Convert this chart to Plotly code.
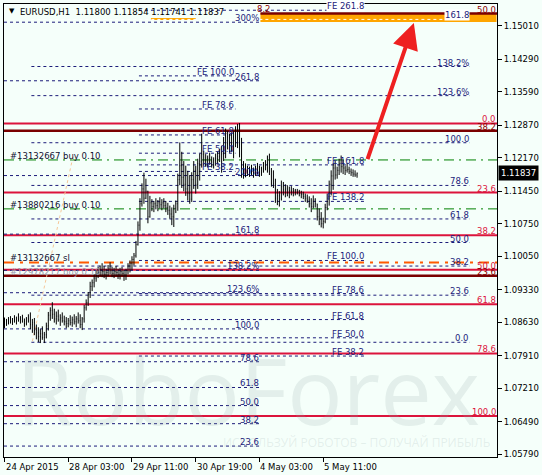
import plotly.graph_objects as go

# ---------------- data ----------------
time_labels = ["24 Apr 2015", "28 Apr 03:00", "29 Apr 11:00", "30 Apr 19:00", "4 May 03:00", "5 May 11:00"]
time_label_bars = [0, 32, 64, 96, 128, 160]

price_ticks = [1.15010, 1.14290, 1.13590, 1.12870, 1.12170, 1.11450, 1.10750,
               1.10050, 1.09330, 1.08630, 1.07910, 1.07210, 1.06490, 1.05790]

first_open = 1.0866
highs = [1.0873, 1.0870, 1.0874, 1.0876, 1.0872, 1.0878, 1.0875, 1.0882, 1.0876, 1.0879,
         1.0871, 1.0874, 1.0880, 1.0884, 1.0870, 1.0872, 1.0858, 1.0852, 1.0848, 1.0854,
         1.0842, 1.0862, 1.0885, 1.0895, 1.0906, 1.0892, 1.0886, 1.0890, 1.0880, 1.0884,
         1.0877, 1.0874, 1.0872, 1.0878, 1.0875, 1.0880, 1.0876, 1.0884, 1.0880, 1.0874,
         1.0900, 1.0912, 1.0928, 1.0950, 1.0955, 1.0966, 1.0975, 1.0982, 1.0985, 1.0990,
         1.0984, 1.0978, 1.0986, 1.0992, 1.0982, 1.0980, 1.0984, 1.0978, 1.0980, 1.0982,
         1.0976, 1.0978, 1.0990, 1.0996, 1.1005, 1.1012, 1.1038, 1.1080, 1.1130, 1.1162,
         1.1185, 1.1172, 1.1146, 1.1135, 1.1128, 1.1124, 1.1130, 1.1126, 1.1132, 1.1128,
         1.1130, 1.1124, 1.1120, 1.1114, 1.1110, 1.1116, 1.1125, 1.1183, 1.1250, 1.1230,
         1.1210, 1.1200, 1.1189, 1.1180, 1.1186, 1.1210, 1.1200, 1.1215, 1.1226, 1.1269,
         1.1232, 1.1225, 1.1222, 1.1228, 1.1220, 1.1218, 1.1226, 1.1230, 1.1236, 1.1243,
         1.1262, 1.1280, 1.1275, 1.1269, 1.1272, 1.1275, 1.1285, 1.1290, 1.1292, 1.1260,
         1.1210, 1.1205, 1.1200, 1.1198, 1.1202, 1.1196, 1.1200, 1.1206, 1.1200, 1.1198,
         1.1208, 1.1212, 1.1222, 1.1226, 1.1195, 1.1190, 1.1172, 1.1150, 1.1145, 1.1168,
         1.1165, 1.1160, 1.1158, 1.1155, 1.1156, 1.1152, 1.1150, 1.1150, 1.1148, 1.1146,
         1.1144, 1.1140, 1.1138, 1.1134, 1.1130, 1.1136, 1.1130, 1.1118, 1.1108, 1.1100,
         1.1088, 1.1118, 1.1140, 1.1168, 1.1190, 1.1205, 1.1210, 1.1198, 1.1215, 1.1222,
         1.1212, 1.1200, 1.1206, 1.1198, 1.1194, 1.1192, 1.1190, 1.11854]
lows = [1.0850, 1.0855, 1.0858, 1.0860, 1.0857, 1.0862, 1.0858, 1.0864, 1.0860, 1.0862,
        1.0853, 1.0856, 1.0862, 1.0848, 1.0840, 1.0835, 1.0826, 1.0820, 1.0818, 1.0825,
        1.0818, 1.0828, 1.0845, 1.0866, 1.0870, 1.0862, 1.0858, 1.0864, 1.0855, 1.0862,
        1.0856, 1.0850, 1.0852, 1.0856, 1.0853, 1.0858, 1.0852, 1.0860, 1.0850, 1.0846,
        1.0862, 1.0888, 1.0898, 1.0915, 1.0930, 1.0938, 1.0950, 1.0958, 1.0962, 1.0960,
        1.0958, 1.0955, 1.0962, 1.0966, 1.0960, 1.0958, 1.0962, 1.0956, 1.0955, 1.0962,
        1.0952, 1.0954, 1.0966, 1.0970, 1.0975, 1.0985, 1.1002, 1.1028, 1.1060, 1.1112,
        1.1118, 1.1128, 1.1076, 1.1088, 1.1102, 1.1100, 1.1106, 1.1102, 1.1108, 1.1104,
        1.1108, 1.1100, 1.1094, 1.1086, 1.1072, 1.1068, 1.1098, 1.1103, 1.1158, 1.1152,
        1.1145, 1.1135, 1.1125, 1.1118, 1.1122, 1.1150, 1.1140, 1.1150, 1.1168, 1.1196,
        1.1200, 1.1198, 1.1196, 1.1202, 1.1196, 1.1194, 1.1200, 1.1204, 1.1208, 1.1185,
        1.1210, 1.1216, 1.1235, 1.1228, 1.1230, 1.1216, 1.1240, 1.1238, 1.1218, 1.1174,
        1.1172, 1.1175, 1.1178, 1.1176, 1.1180, 1.1174, 1.1178, 1.1182, 1.1176, 1.1178,
        1.1185, 1.1190, 1.1185, 1.1180, 1.1155, 1.1152, 1.1120, 1.1115, 1.1112, 1.1125,
        1.1136, 1.1132, 1.1134, 1.1130, 1.1136, 1.1134, 1.1136, 1.1138, 1.1134, 1.1130,
        1.1128, 1.1122, 1.1120, 1.1110, 1.1100, 1.1108, 1.1110, 1.1082, 1.1072, 1.1067,
        1.1065, 1.1076, 1.1104, 1.1114, 1.1136, 1.1148, 1.1170, 1.1172, 1.1180, 1.1185,
        1.1182, 1.1180, 1.1185, 1.1182, 1.1178, 1.1176, 1.1176, 1.11741]
closes = [1.0862, 1.0866, 1.0868, 1.0864, 1.0869, 1.0866, 1.0870, 1.0868, 1.0872, 1.0864,
          1.0860, 1.0870, 1.0866, 1.0858, 1.0862, 1.0845, 1.0840, 1.0832, 1.0838, 1.0830,
          1.0836, 1.0855, 1.0878, 1.0888, 1.0880, 1.0870, 1.0876, 1.0868, 1.0872, 1.0866,
          1.0864, 1.0860, 1.0866, 1.0862, 1.0868, 1.0864, 1.0870, 1.0866, 1.0858, 1.0870,
          1.0894, 1.0905, 1.0922, 1.0940, 1.0948, 1.0958, 1.0968, 1.0970, 1.0976, 1.0972,
          1.0966, 1.0970, 1.0978, 1.0974, 1.0968, 1.0972, 1.0970, 1.0966, 1.0972, 1.0968,
          1.0964, 1.0974, 1.0984, 1.0990, 1.0998, 1.1006, 1.1030, 1.1072, 1.1118, 1.1150,
          1.1130, 1.1145, 1.1090, 1.1120, 1.1112, 1.1118, 1.1114, 1.1120, 1.1116, 1.1120,
          1.1114, 1.1110, 1.1104, 1.1096, 1.1090, 1.1108, 1.1118, 1.1170, 1.1200, 1.1175,
          1.1160, 1.1150, 1.1140, 1.1128, 1.1170, 1.1190, 1.1160, 1.1205, 1.1210, 1.1225,
          1.1212, 1.1210, 1.1216, 1.1210, 1.1208, 1.1212, 1.1216, 1.1220, 1.1230, 1.1225,
          1.1255, 1.1262, 1.1248, 1.1260, 1.1240, 1.1262, 1.1275, 1.1248, 1.1225, 1.1190,
          1.1185, 1.1192, 1.1186, 1.1190, 1.1188, 1.1184, 1.1194, 1.1190, 1.1186, 1.1194,
          1.1200, 1.1204, 1.1195, 1.1188, 1.1162, 1.1158, 1.1130, 1.1135, 1.1128, 1.1155,
          1.1148, 1.1150, 1.1142, 1.1146, 1.1144, 1.1146, 1.1142, 1.1144, 1.1140, 1.1138,
          1.1134, 1.1130, 1.1126, 1.1118, 1.1112, 1.1126, 1.1118, 1.1090, 1.1085, 1.1075,
          1.1080, 1.1110, 1.1130, 1.1160, 1.1178, 1.1195, 1.1180, 1.1190, 1.1205, 1.1198,
          1.1195, 1.1190, 1.1192, 1.1188, 1.1185, 1.1182, 1.1180, 1.11837]
opens = [first_open] + closes[:-1]
bars = list(range(len(closes)))

# Fibonacci objects: (price at 0 %, price at 100 %), levels, labels
crimson_p0, crimson_p100 = 1.12910, 1.06607
crimson_levels = [0.0, 23.6, 38.2, 50.0, 61.8, 78.6, 100.0]
crimson_labels = ["0.0", "23.6", "38.2", "50.0", "61.8", "78.6", "100.0"]

maroon_p0, maroon_p100 = 1.04582, 1.25972
maroon_levels = [23.6, 38.2, 50.0]
maroon_labels = ["23.6", "38.2", "50.0"]

retr2_p0, retr2_p100 = 1.08197, 1.12495
retr2_levels = [0.0, 23.6, 38.2, 50.0, 61.8, 78.6, 100.0, 123.6, 138.2, 161.8]
retr2_labels = ["0.0", "23.6", "38.2", "50.0", "61.8", "78.6", "100.0", "123.6%", "138.2%", "161.8"]

exp3_p0, exp3_p100 = 1.05182, 1.08485
exp3_levels = [23.6, 38.2, 50.0, 61.8, 78.6, 100.0, 123.6, 138.2, 161.8, 200.0, 261.8, 300.0]
exp3_labels = ["23.6", "38.2", "50.0", "61.8", "78.6", "100.0", "123.6%", "138.2%", "161.8", "200%", "261.8", "300%"]

fe1_p0, fe1_p100 = 1.10604, 1.13935
fe1_levels = [38.2, 50.0, 61.8, 78.6, 100.0]
fe1_labels = ["FE 38.2", "FE 50.0", "FE 61.8", "FE 78.6", "FE 100.0"]

fe2_p0, fe2_p100 = 1.06628, 1.09959
fe2_levels = [38.2, 50.0, 61.8, 78.6, 100.0, 138.2, 161.8, 261.8]
fe2_labels = ["FE 38.2", "FE 50.0", "FE 61.8", "FE 78.6", "FE 100.0", "FE 138.2", "FE 161.8", "FE 261.8"]

order_prices = [1.12124, 1.11070]
order_labels = ["#13132667 buy 0.10", "#13880216 buy 0.10"]
sl_price = 1.09916
sl_label = "#13132667 sl"
closed_order_label = "#12978217 buy 0.10"
closed_order_price = 1.09630

target_box = (128.5, 247.0, 1.15096, 1.15290)   # bar from, bar to, price low, price high
trend_start = (14.0, 1.08219)
trend_end = (34.5, 1.12216)
arrow_start = (182.0, 1.12109)
arrow_end = (205.5, 1.15074)

title_text = "EURUSD,H1  1.11800 1.11854 1.11741 1.11837"
last_price = 1.11837

# ---------------- styling ----------------
BG = "#F5FFFA"
NAVY = "#1C1C7A"
FONT = "DejaVu Sans"
FS = 8.5
X_MIN, X_MAX = -0.25, 247.25
Y_MIN, Y_MAX = 1.05726, 1.15483


def lvl_price(p0, p100, lvl):
    return p0 + (p100 - p0) * lvl / 100.0


fig = go.Figure()
fig.add_trace(go.Ohlc(
    x=bars, open=opens, high=highs, low=lows, close=closes,
    increasing=dict(line=dict(color="black", width=1)),
    decreasing=dict(line=dict(color="black", width=1)),
    tickwidth=0.2, showlegend=False, hoverinfo="skip"))

shapes = []
annotations = []


def hline(x0, x1, y, color, width, dash):
    shapes.append(dict(type="line", xref="x", yref="y", x0=x0, x1=x1, y0=y, y1=y,
                       line=dict(color=color, width=width, dash=dash), layer="below"))


def label(x, y, text, color, xanchor="right", bg=None):
    annotations.append(dict(x=x, y=y, xref="x", yref="y", text=text, showarrow=False,
                            xanchor=xanchor, yanchor="bottom", yshift=-2,
                            font=dict(family=FONT, size=FS, color=color),
                            bgcolor=bg, borderpad=0))


# watermark
annotations.append(dict(x=0.495, y=0.148, xref="paper", yref="paper", text="RoboForex",
                        showarrow=False, xanchor="center", yanchor="middle",
                        font=dict(family="Open Sans", size=92, color="rgba(150,172,172,0.19)")))
annotations.append(dict(x=0.715, y=0.033, xref="paper", yref="paper",
                        text="ИСПОЛЬЗУЙ РОБОТОВ – ПОЛУЧАЙ ПРИБЫЛЬ",
                        showarrow=False, xanchor="center", yanchor="middle",
                        font=dict(family="Open Sans", size=12, color="rgba(150,172,172,0.2)")))

# target rectangle
shapes.append(dict(type="rect", xref="x", yref="y", x0=target_box[0], x1=target_box[1],
                   y0=target_box[2], y1=target_box[3], fillcolor="#FFA500",
                   line=dict(width=0), layer="below"))
shapes.append(dict(type="line", xref="x", yref="y", x0=73.5, x1=96.0, y0=1.15160, y1=1.15160,
                   line=dict(color="#FFA500", width=2), layer="below"))

# crimson retracement
for lv, tx in zip(crimson_levels, crimson_labels):
    p = lvl_price(crimson_p0, crimson_p100, lv)
    hline(X_MIN, X_MAX, p, "#DC143C", 2, "solid")
    label(247.0, p, tx, "#DC143C")

# maroon
for lv, tx in zip(maroon_levels, maroon_labels):
    p = lvl_price(maroon_p0, maroon_p100, lv)
    hline(X_MIN if lv < 50 else 128.5, X_MAX, p, "#7A0000", 2.5, "solid")
    label(247.0, p, tx, "#8B0000")
label(134.5, 1.15290, "8.2", "#8B0000")

# set 2 (labels near right)
for lv, tx in zip(retr2_levels, retr2_labels):
    p = lvl_price(retr2_p0, retr2_p100, lv)
    col = "white" if lv > 150 else NAVY
    hline(13.5, 233.5, p, col, 1, "3px,3px")
    label(233.5, p, tx, NAVY, bg="white" if lv > 150 else None)

# set 3 (labels at middle)
for lv, tx in zip(exp3_levels, exp3_labels):
    p = lvl_price(exp3_p0, exp3_p100, lv)
    hline(X_MIN, 128.5, p, NAVY, 1, "3px,3px")
    label(128.5, p, tx, NAVY)

# FE upper
for lv, tx in zip(fe1_levels, fe1_labels):
    p = lvl_price(fe1_p0, fe1_p100, lv)
    hline(67.5, 116.0, p, NAVY, 1, "3px,3px")
    label(115.5, p, tx, NAVY)

# FE lower
for lv, tx in zip(fe2_levels, fe2_labels):
    p = lvl_price(fe2_p0, fe2_p100, lv)
    hline(67.5, 181.0, p, NAVY, 1, "3px,3px")
    label(181.0, p, tx, NAVY, bg="white" if lv > 200 else None)

# orders
for p, tx in zip(order_prices, order_labels):
    hline(X_MIN, X_MAX, p, "#008000", 1, "10px,5px,2px,5px")
    label(2.5, p, tx, "#101030", xanchor="left")
hline(X_MIN, X_MAX, sl_price, "#FF5A00", 2, "10px,6px,3px,6px")
label(2.5, sl_price, sl_label, "#101030", xanchor="left")
label(2.5, closed_order_price, closed_order_label, "#9A9AAA", xanchor="left")

# trend line (peach dotted)
shapes.append(dict(type="line", xref="x", yref="y", x0=trend_start[0], y0=trend_start[1],
                   x1=trend_end[0], y1=trend_end[1],
                   line=dict(color="#F5C89A", width=1, dash="dot"), layer="below"))

# red arrow
annotations.append(dict(x=arrow_end[0], y=arrow_end[1], ax=arrow_start[0], ay=arrow_start[1],
                        xref="x", yref="y", axref="x", ayref="y", text="", showarrow=True,
                        arrowhead=2, arrowsize=1.3, arrowwidth=4, arrowcolor="#EE2020"))

# title
annotations.append(dict(x=0, y=1, xref="paper", yref="paper", text="▼", showarrow=False,
                        xanchor="left", yanchor="top", xshift=3, yshift=-1,
                        font=dict(family=FONT, size=7, color="black")))
annotations.append(dict(x=0, y=1, xref="paper", yref="paper", text=title_text, showarrow=False,
                        xanchor="left", yanchor="top", xshift=14, yshift=-1,
                        font=dict(family=FONT, size=FS, color="black")))

# time labels
for b, tx in zip(time_label_bars, time_labels):
    annotations.append(dict(x=b, y=0, xref="x", yref="paper", text=tx, showarrow=False,
                            xanchor="left", yanchor="top", yshift=-3, xshift=-1,
                            font=dict(family=FONT, size=FS, color="black")))

# last price box
annotations.append(dict(x=1, y=last_price, xref="paper", yref="y", text="1.11837",
                        showarrow=False, xanchor="left", yanchor="middle", xshift=1,
                        bgcolor="black", borderpad=2,
                        font=dict(family=FONT, size=FS, color="white")))

fig.update_layout(
    width=542, height=475,
    margin=dict(l=3, r=44, t=3, b=18),
    paper_bgcolor=BG, plot_bgcolor=BG,
    shapes=shapes, annotations=annotations,
    showlegend=False,
    xaxis=dict(range=[X_MIN, X_MAX], showgrid=False, zeroline=False, showline=True,
               linecolor="black", linewidth=1, mirror=True, ticks="outside", ticklen=4,
               tickcolor="black", tickvals=time_label_bars, showticklabels=False,
               rangeslider=dict(visible=False), fixedrange=True),
    yaxis=dict(range=[Y_MIN, Y_MAX], side="right", showgrid=False, zeroline=False,
               showline=True, linecolor="black", linewidth=1, mirror=True,
               ticks="outside", ticklen=4, tickcolor="black",
               tickvals=price_ticks, ticktext=[f"{v:.5f}" for v in price_ticks],
               tickfont=dict(family=FONT, size=FS, color="black"), fixedrange=True),
)

fig.write_html("out.html", config={"displayModeBar": False},
               post_script="document.body.style.margin='0';document.body.style.overflow='hidden';")
